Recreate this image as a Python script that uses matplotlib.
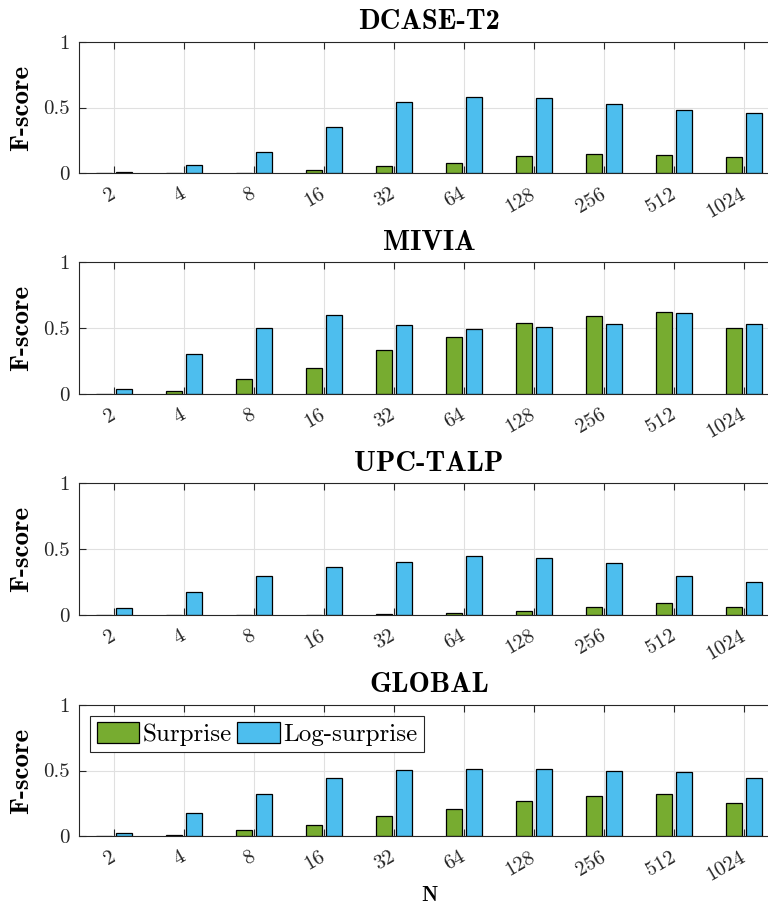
import numpy as np
import matplotlib
matplotlib.use("Agg")
import matplotlib.pyplot as plt

# F-score per window length N, for the two detectors
n_labels = ["2", "4", "8", "16", "32", "64", "128", "256", "512", "1024"]
titles = ["DCASE-T2", "MIVIA", "UPC-TALP", "GLOBAL"]

dcase_surprise = [0.0, 0.002, 0.005, 0.023, 0.053, 0.081, 0.129, 0.149, 0.141, 0.126]
dcase_logsurprise = [0.012, 0.066, 0.164, 0.349, 0.539, 0.577, 0.572, 0.529, 0.478, 0.460]
mivia_surprise = [0.0, 0.018, 0.114, 0.197, 0.332, 0.430, 0.534, 0.587, 0.623, 0.496]
mivia_logsurprise = [0.035, 0.300, 0.500, 0.595, 0.524, 0.494, 0.504, 0.532, 0.610, 0.532]
upc_surprise = [0.0, 0.002, 0.001, 0.001, 0.006, 0.013, 0.028, 0.058, 0.089, 0.058]
upc_logsurprise = [0.053, 0.178, 0.294, 0.363, 0.406, 0.452, 0.431, 0.396, 0.299, 0.249]
global_surprise = [0.002, 0.008, 0.046, 0.084, 0.152, 0.205, 0.268, 0.304, 0.322, 0.256]
global_logsurprise = [0.028, 0.180, 0.324, 0.446, 0.501, 0.514, 0.511, 0.499, 0.491, 0.441]

surprise = [dcase_surprise, mivia_surprise, upc_surprise, global_surprise]
logsurprise = [dcase_logsurprise, mivia_logsurprise, upc_logsurprise, global_logsurprise]

green = "#77AC30"
blue = "#4DBEEE"

plt.rcParams["font.family"] = "cmr10"
plt.rcParams["axes.formatter.use_mathtext"] = True

fig = plt.figure(figsize=(7.68, 9.13), dpi=100)

# axes rectangles [left, bottom, width, height] in figure fraction
bottoms = [0.8102, 0.5688, 0.3264, 0.0840]
x = np.arange(1, len(n_labels) + 1)
w = 0.236
off = 0.143

for k in range(4):
    ax = fig.add_axes([0.1029, bottoms[k], 0.9115, 0.1441])
    ax.set_axisbelow(True)
    ax.grid(True, color="#e0e0e0", linewidth=0.8)
    ax.bar(x - off, surprise[k], w, color=green, edgecolor="black",
           linewidth=0.9, label="Surprise")
    ax.bar(x + off, logsurprise[k], w, color=blue, edgecolor="black",
           linewidth=0.9, label="Log-surprise")
    ax.set_xlim(0.5, 10.5)
    ax.set_ylim(0, 1)
    ax.set_yticks([0, 0.5, 1])
    ax.set_yticklabels(["0", "0.5", "1"])
    ax.set_xticks(x)
    ax.set_xticklabels(n_labels, rotation=30, ha="right", va="center",
                       rotation_mode="anchor")
    ax.tick_params(direction="in", top=True, length=5, width=0.8,
                   labelsize=15, colors="#262626", labelcolor="#262626")
    ax.tick_params(axis="x", pad=14)
    ax.tick_params(axis="y", pad=7)
    for s in ax.spines.values():
        s.set_color("#262626")
        s.set_linewidth(0.8)
    ax.set_title(titles[k], fontfamily="cmb10", fontsize=20.5, pad=9)
    ax.set_ylabel("F-score", fontfamily="cmb10", fontsize=19.5, labelpad=7)
    if k == 3:
        ax.set_xlabel("N", fontfamily="cmb10", fontsize=15, labelpad=1)
        leg = ax.legend(loc="upper left", ncol=2, fontsize=18, frameon=True,
                        fancybox=False, edgecolor="#262626", framealpha=1,
                        handlelength=1.7, handleheight=0.9, handletextpad=0.15,
                        columnspacing=0.2, borderpad=0.25, borderaxespad=0.45)
        leg.get_frame().set_linewidth(0.8)

fig.savefig("out.png", dpi=100)
